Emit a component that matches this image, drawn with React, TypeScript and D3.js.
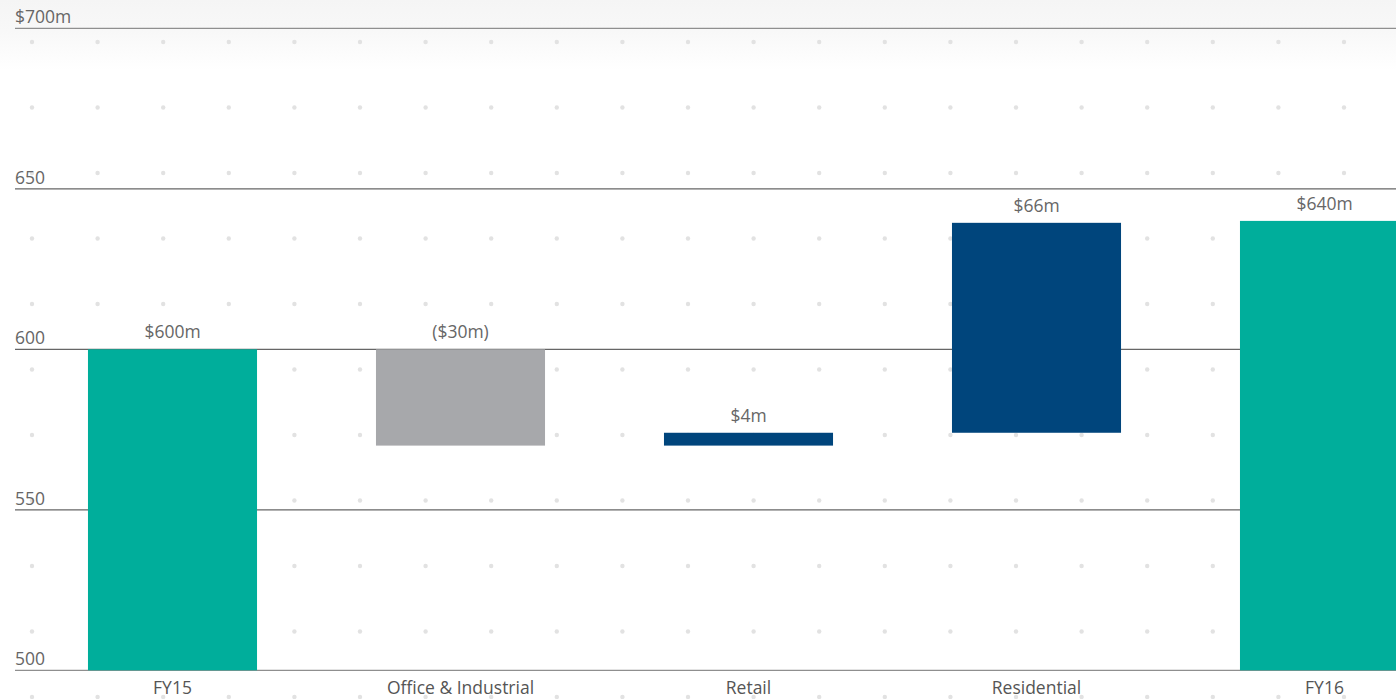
import React from "react";
import * as d3 from "d3";

const categories = ["FY15", "Office & Industrial", "Retail", "Residential", "FY16"];
const deltas = [600, -30, 4, 65.4, 640];
const kinds = ["total", "change", "change", "change", "total"];
const valueLabels = ["$600m", "($30m)", "$4m", "$66m", "$640m"];
const yTicks = [500, 550, 600, 650, 700];
const yTickLabels = ["500", "550", "600", "650", "$700m"];

const W = 1396;
const H = 699;
const FONT = "'Open Sans', Lato, sans-serif";

export default function App() {
  const y = d3.scaleLinear().domain([500, 700]).range([670.3, 28.3]);
  const x = d3
    .scaleBand<string>()
    .domain(categories)
    .range([28.5, 1468.5])
    .paddingInner(0.413)
    .paddingOuter(0.2065);

  let running = 0;
  const bars = categories.map((c, i) => {
    let start: number, end: number;
    if (kinds[i] === "total") {
      start = 500;
      end = deltas[i];
      running = deltas[i];
    } else {
      start = running;
      end = running + deltas[i];
      running = end;
    }
    let color = "#00ae9b";
    if (kinds[i] === "change") color = deltas[i] < 0 ? "#a7a8ab" : "#00457c";
    return { c, start, end, color, label: valueLabels[i] };
  });

  const dotXs = d3.range(0, 21).map((i) => 32 + i * 65.6);
  const dotYs = d3.range(0, 11).map((i) => 42 + i * 65.5);

  return (
    <svg
      width={W}
      height={H}
      style={{ position: "absolute", left: 0, top: 0, display: "block", background: "#fff" }}
      fontFamily={FONT}
    >
      <defs>
        <linearGradient id="topfade" x1="0" y1="0" x2="0" y2="1">
          <stop offset="0" stopColor="#f5f5f5" />
          <stop offset="0.45" stopColor="#f8f8f8" />
          <stop offset="1" stopColor="#ffffff" />
        </linearGradient>
      </defs>
      <rect x={0} y={0} width={W} height={70} fill="url(#topfade)" />
      {dotYs.map((dy) =>
        dotXs.map((dx) => <circle key={`${dx}-${dy}`} cx={dx} cy={dy} r={2.2} fill="#e2e2e2" />)
      )}
      {yTicks.map((t, i) => (
        <g key={t}>
          <line
            x1={15}
            x2={W}
            y1={y(t)}
            y2={y(t)}
            stroke={t === 700 || t === 500 ? "#8f8f8f" : "#666"}
            strokeWidth={1.2}
          />
          <text x={15} y={y(t) - 5} fontSize={17.5} fill="#666">
            {yTickLabels[i]}
          </text>
        </g>
      ))}
      {bars.map((b) => {
        const top = y(Math.max(b.start, b.end));
        const bottom = y(Math.min(b.start, b.end));
        const bx = x(b.c)!;
        return (
          <g key={b.c}>
            <rect x={bx} y={top} width={x.bandwidth()} height={bottom - top} fill={b.color} />
            <text
              x={bx + x.bandwidth() / 2}
              y={top - 11}
              textAnchor="middle"
              fontSize={17.5}
              fill="#666"
            >
              {b.label}
            </text>
            <text
              x={bx + x.bandwidth() / 2}
              y={694}
              textAnchor="middle"
              fontSize={17.5}
              fill="#555"
            >
              {b.c}
            </text>
          </g>
        );
      })}
    </svg>
  );
}
